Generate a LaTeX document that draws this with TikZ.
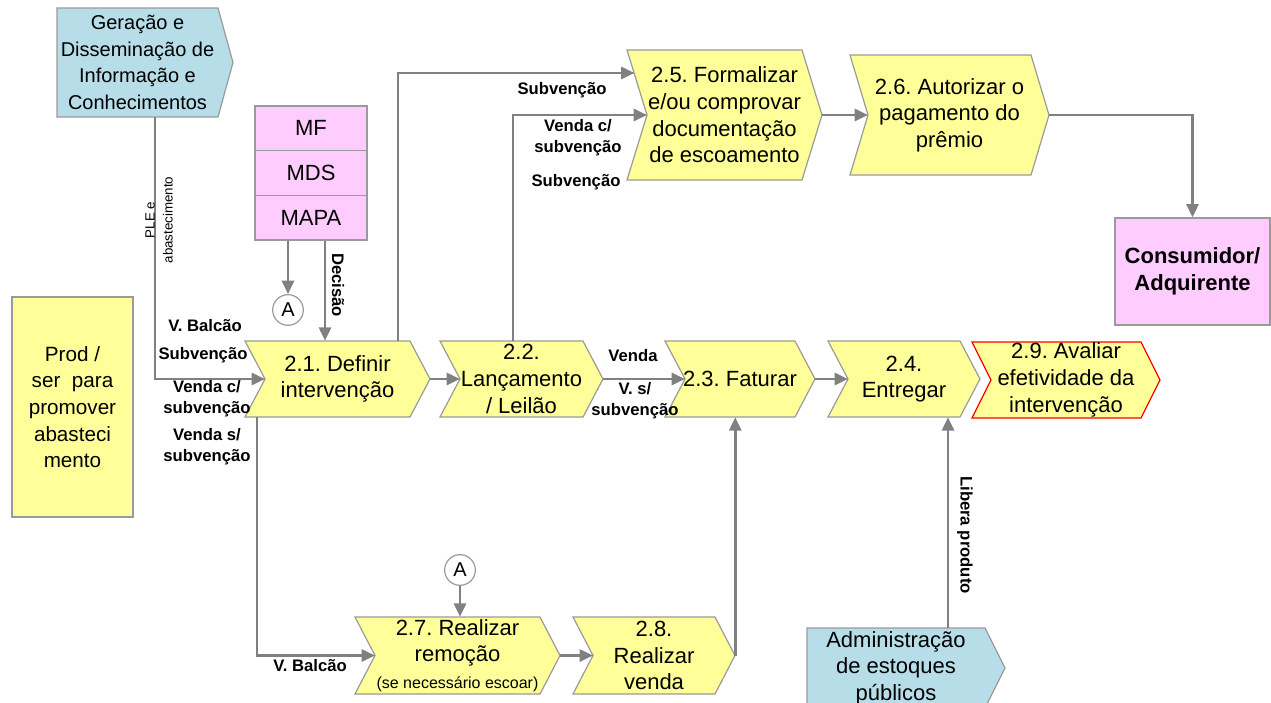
\documentclass[tikz,border=0pt]{standalone}
\usepackage{fontspec}
\setmainfont{Liberation Sans}
\usetikzlibrary{arrows.meta,calc}
\definecolor{yelF}{HTML}{FFFF99}
\definecolor{bluF}{HTML}{B7DEE8}
\definecolor{pnkF}{HTML}{FFCCFF}
\definecolor{lnG}{HTML}{808080}
\definecolor{bdG}{HTML}{9A9A9A}
\frenchspacing
\tikzset{
  boxtxt/.style={align=center,inner sep=0pt,font=\fontsize{16.5}{20}\selectfont},
  chevY/.style={fill=yelF,draw=bdG,line width=0.9pt},
  chevR/.style={fill=yelF,draw=red,line width=0.9pt},
  blueshape/.style={fill=bluF,draw=bdG,line width=0.9pt},
  pinkbox/.style={fill=pnkF,draw=bdG,line width=0.9pt,inner sep=0pt,align=center},
  lbl/.style={align=center,inner sep=0pt,font=\bfseries\fontsize{12.5}{15.5}\selectfont},
  conn/.style={draw=lnG,line width=2pt,-{Triangle[length=10pt,width=9pt]}},
  circA/.style={circle,draw=bdG,fill=white,line width=0.9pt,minimum size=23pt,inner sep=0pt,font=\fontsize{15}{18}\selectfont},
}
% #1 style #2 name #3 x0 #4 y0 #5 xc #6 xp #7 y1 #8 text
\newcommand\chev[8]{%
  \pgfmathsetmacro\chvMid{(#4+#7)/2}%
  \pgfmathsetmacro\chvNotch{#3+#6-#5}%
  \pgfmathsetmacro\chvCx{(#3+#6)/2}%
  \pgfmathsetmacro\chvW{(#6-#3)*0.75}%
  \pgfmathsetmacro\chvH{(#7-#4)*0.75}%
  \draw[#1] (#3,#4) -- (#5,#4) -- (#6,\chvMid) -- (#5,#7) -- (#3,#7) -- (\chvNotch,\chvMid) -- cycle;
  \node[boxtxt, minimum width=\chvW pt, minimum height=\chvH pt] (#2) at (\chvCx,\chvMid) {#8};
  \coordinate (#2-in) at (\chvNotch,\chvMid);
}
\begin{document}
\begin{tikzpicture}[x=0.75pt,y=-0.75pt]
\useasboundingbox (0,0) rectangle (1271,703);
\clip (0,0) rectangle (1271,703);

% Geracao
\draw[blueshape] (57,8) -- (218,8) -- (233,62.5) -- (218,117) -- (57,117) -- cycle;
\node[align=center,inner sep=0pt,font=\fontsize{15}{20}\selectfont,minimum width=120.75pt,minimum height=81.75pt] (gera) at (137.5,62.5) {Geração e\\Disseminação de\\Informação e\\Conhecimentos};

% Administracao
\draw[blueshape] (807,628) -- (985,628) -- (1005,668) -- (985,708) -- (807,708) -- cycle;
\node[boxtxt,minimum width=133.5pt,minimum height=60pt] (adm) at (896,668) {Administração\\de estoques\\públicos};

% Stack
\node[pinkbox,minimum width=84pt,minimum height=33.5pt,font=\fontsize{16.5}{20}\selectfont] (mf) at (311,128.3) {MF};
\node[pinkbox,minimum width=84pt,minimum height=33.5pt,font=\fontsize{16.5}{20}\selectfont] (mds) at (311,173) {MDS};
\node[pinkbox,minimum width=84pt,minimum height=33.5pt,font=\fontsize{16.5}{20}\selectfont] (mapa) at (311,217.7) {MAPA};

% Consumidor
\node[pinkbox,minimum width=116.25pt,minimum height=80.25pt,font=\bfseries\fontsize{16.5}{20}\selectfont] (cons) at (1192.5,271.5) {Consumidor/\\Adquirente};

% Prod
\node[fill=yelF,draw=bdG,line width=0.9pt,inner sep=0pt,align=center,minimum width=90.75pt,minimum height=165pt,font=\fontsize{15.5}{20}\selectfont] (prod) at (72.5,407) {Prod /\\ser \ para\\promover\\abasteci\\mento};

% Chevrons
\chev{chevY}{n21}{245}{341}{410}{430}{417}{2.1. Definir\\intervenção}
\chev{chevY}{n22}{440}{341}{583}{603}{417}{2.2.\\Lançamento\\/ Leilão}
\chev{chevY}{n23}{665}{341}{795}{815}{417}{2.3. Faturar}
\chev{chevY}{n24}{828}{341}{960}{980}{417}{2.4.\\Entregar}
\chev{chevR}{n29}{972}{342}{1141}{1160}{418}{2.9. Avaliar\\efetividade da\\intervenção}
\chev{chevY}{n25}{627}{50}{802}{822}{180}{2.5. Formalizar\\e/ou comprovar\\documentação\\de escoamento}
\chev{chevY}{n26}{850}{55}{1031}{1049}{175}{2.6. Autorizar o\\pagamento do\\prêmio}
\chev{chevY}{n27}{355}{617}{540}{560}{694}{2.7. Realizar\\remoção\\{\fontsize{12}{15}\selectfont (se necessário escoar)}}
\chev{chevY}{n28}{573}{617}{715}{735}{694}{2.8.\\Realizar\\venda}
\coordinate (n25-a) at (634.5,73);

% Circles
\node[circA] (a1) at (288,310) {A};
\node[circA] (a2) at (460,570) {A};

% Connectors
\draw[conn] (155,0 |- gera.south) |- (n21-in);
\draw[conn] (288,0 |- mapa.south) -- (a1.north);
\draw[conn] (325,0 |- mapa.south) -- (325,0 |- n21.north);
\draw[conn] (n21.east) -- (n22-in);
\draw[conn] (398,0 |- n21.north) |- (n25-a);
\draw[conn] (513,0 |- n22.north) |- (n25-in);
\draw[conn] (n22.east) -- (n23-in);
\draw[conn] (n23.east) -- (n24-in);
\draw[conn] (n25.east) -- (n26-in);
\draw[conn] (n26.east) -| (cons.north);
\draw[conn] (257,0 |- n21.south) |- (n27-in);
\draw[conn] (a2.south) -- (460,0 |- n27.north);
\draw[conn] (n27.east) -- (n28-in);
\draw[conn] (n28.east) -- (n28.east |- n23.south);
\draw[conn] (948,0 |- adm.north) -- (948,0 |- n24.south);

% Labels
\node[align=center,inner sep=0pt,font=\fontsize{10}{13.5}\selectfont,rotate=90] (lple) at (159,220) {PLE e\\abastecimento};
\node[lbl,rotate=-90] (ldec) at (338,285) {Decisão};
\node[lbl,rotate=-90] (llib) at (965,535) {Libera produto};
\node[lbl] (l1) at (205,326) {V. Balcão};
\node[lbl] (l2) at (203,355) {Subvenção};
\node[lbl] (l3) at (207,399) {Venda c/\\subvenção};
\node[lbl] (l4) at (207,447) {Venda s/\\subvenção};
\node[lbl] (l5) at (562,90) {Subvenção};
\node[lbl] (l6) at (578,138) {Venda c/\\subvenção};
\node[lbl] (l7) at (576,182) {Subvenção};
\node[lbl] (l8) at (633,356) {Venda};
\node[lbl] (l9) at (635,401) {V. s/\\subvenção};
\node[lbl] (l10) at (310,666) {V. Balcão};
\end{tikzpicture}
\end{document}
